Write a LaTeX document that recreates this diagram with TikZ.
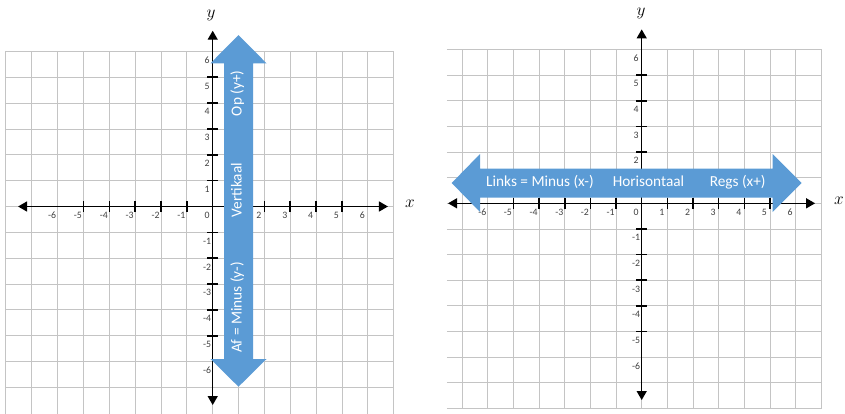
\documentclass[tikz,border=0pt]{standalone}
\usepackage{fontspec}
\setmainfont{Carlito}
\usetikzlibrary{arrows.meta}
\definecolor{arrowblue}{HTML}{5B9BD5}
\definecolor{gridgray}{HTML}{C4C4C4}
\definecolor{labelgray}{HTML}{404040}
\tikzset{
  gridline/.style={draw=gridgray, line width=0.9pt},
  axisline/.style={draw=black, line width=1.4pt, {Triangle[length=9pt,width=10pt]}-{Triangle[length=9pt,width=10pt]}},
  tickmark/.style={draw=black, line width=1.6pt},
  ticklabel/.style={font=\fontsize{9.8}{10}\selectfont, text=labelgray, inner sep=0pt},
  bigarrow/.style={fill=arrowblue, draw=none},
  arrowtext/.style={font=\fontsize{15.3}{16}\selectfont, text=white, inner sep=0pt, anchor=base},
  axislabel/.style={font=\fontsize{18}{18}\selectfont, inner sep=0pt}
}
\begin{document}
\begin{tikzpicture}[x=1pt,y=-1pt]
\useasboundingbox (0,0) rectangle (845,413);
\clip (0,0) rectangle (845,413);
% ---------------- left panel ----------------
\begin{scope}[shift={(212.7,206.5)}, x=25.85pt, y=25.85pt]
  \foreach \i in {-8,...,7} \draw[gridline] (\i,6) -- (\i,-8.3);
  \foreach \j in {-7,...,6} \draw[gridline] (-8,\j) -- (7,\j);
  \draw[axisline] (-7.53,0) -- (6.78,0);
  \draw[axisline] (0,-7.68) -- (0,6.8);
  \foreach \i in {-5,...,-1,2,3,...,5} {
    \draw[tickmark] (\i,0) ++(0,-5.5pt) -- ++(0,11pt);
  }
  \foreach \i in {-5,...,-1,1,2,...,5} {
    \draw[tickmark] (0,\i) ++(-5.5pt,0) -- ++(11pt,0);
  }
  \foreach \i in {-6,...,0,2,3,...,6} {
    \node[ticklabel] at ([xshift=-5.5pt,yshift=-9pt]\i,0) {\i};
  }
  \foreach \j in {-6,...,-1,1,2,...,6} {
    \node[ticklabel] at ([xshift=-5.7pt,yshift=-8.7pt]0,\j) {\j};
  }
\end{scope}
\node[axislabel] (ly) at (211,15) {$y$};
\node[axislabel] (lx) at (410,204) {$x$};
% vertical blue double arrow
\fill[bigarrow] (238.5,35) -- (266.5,63.3) -- (253,63.3) -- (253,359) -- (266.5,359)
  -- (238.5,386.7) -- (210.5,359) -- (224,359) -- (224,63.3) -- (210.5,63.3) -- cycle;
\node[arrowtext, rotate=90] (op) at (241.5,93.3) {Op (y+)};
\node[arrowtext, rotate=90] (vert) at (241.5,190) {Vertikaal};
\node[arrowtext, rotate=90] (af) at (241.5,307.5) {Af = Minus (y-)};
% ---------------- right panel ----------------
\begin{scope}[shift={(641.7,203.3)}, x=25.65pt, y=25.65pt]
  \foreach \i in {-7,...,7} \draw[gridline] (\i,6) -- (\i,-8);
  \foreach \j in {-8,...,6} \draw[gridline] (-7.6,\j) -- (7,\j);
  \draw[axisline] (-7.55,0) -- (6.76,0);
  \draw[axisline] (0,-7.67) -- (0,6.78);
  \foreach \i in {-5,...,-1,1,2,...,5} {
    \draw[tickmark] (\i,0) ++(0,-5.5pt) -- ++(0,11pt);
  }
  \foreach \i in {-5,...,-1,2,3,...,5} {
    \draw[tickmark] (0,\i) ++(-5.5pt,0) -- ++(11pt,0);
  }
  \foreach \i in {-6,...,6} {
    \node[ticklabel] at ([xshift=-5.5pt,yshift=-9pt]\i,0) {\i};
  }
  \foreach \j in {-6,...,-1,2,3,...,6} {
    \node[ticklabel] at ([xshift=-5.7pt,yshift=-8.7pt]0,\j) {\j};
  }
\end{scope}
\node[axislabel] (ry) at (641,13) {$y$};
\node[axislabel] (rx) at (839,201) {$x$};
% horizontal blue double arrow
\fill[bigarrow] (451.7,183) -- (480,154) -- (480,168.5) -- (772.7,168.5) -- (772.7,154)
  -- (801.7,183) -- (772.7,212) -- (772.7,197.5) -- (480,197.5) -- (480,212) -- cycle;
\node[arrowtext] (links) at (540,186.7) {Links = Minus (x-)};
\node[arrowtext] (hor) at (648.5,186.7) {Horisontaal};
\node[arrowtext] (regs) at (737.7,186.7) {Regs (x+)};
\end{tikzpicture}
\end{document}
